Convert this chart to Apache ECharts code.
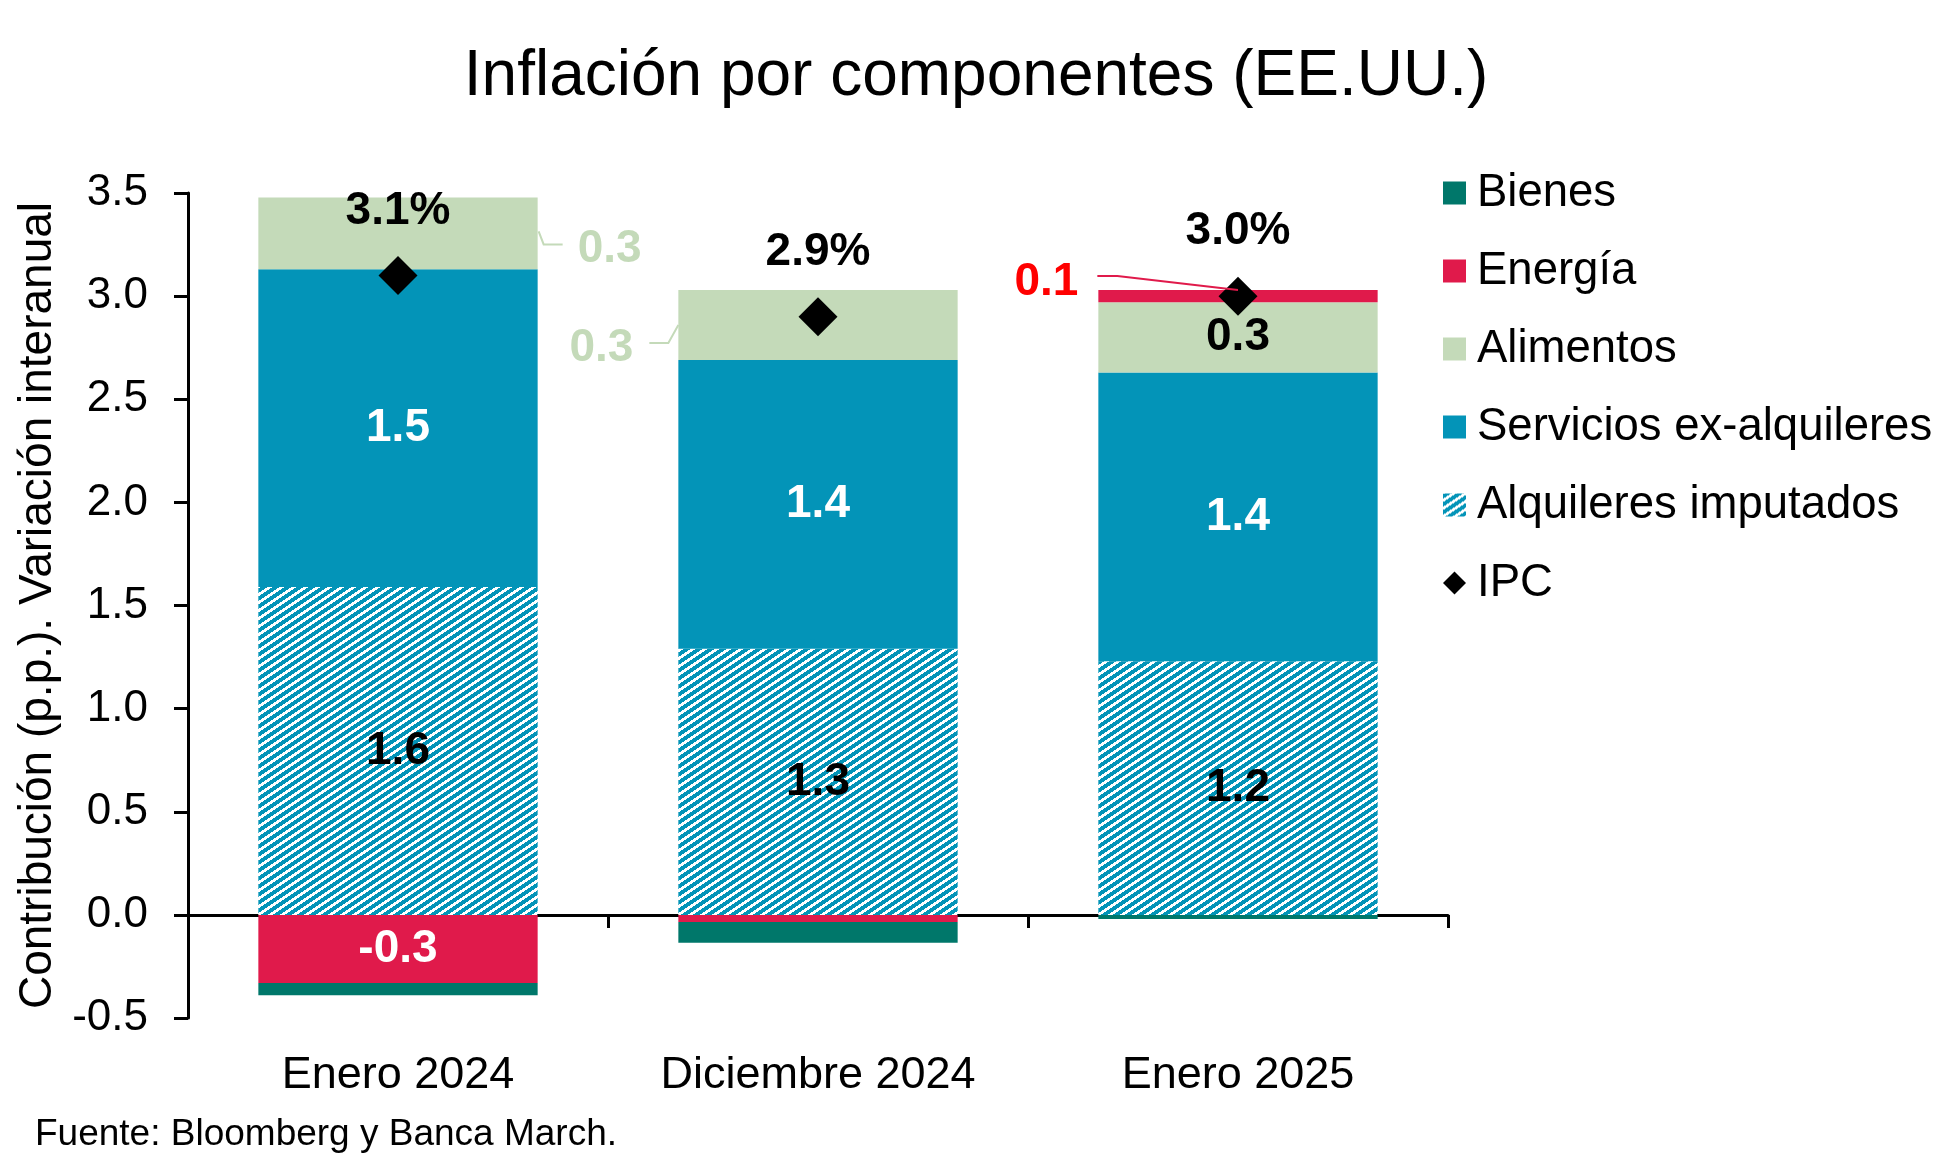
<!DOCTYPE html>
<html><head><meta charset="utf-8">
<script src="https://cdn.jsdelivr.net/npm/echarts@6/dist/echarts.min.js"></script>
<style>html,body{margin:0;padding:0;background:#fff}#c{width:1952px;height:1170px}</style>
</head><body><div id="c"></div>
<script>
// ---- data ----
const categories = ['Enero 2024', 'Diciembre 2024', 'Enero 2025'];
const bienes = [-0.06, -0.10, -0.02];
const energia = [-0.33, -0.035, 0.06];
const alimentos = [0.348, 0.34, 0.34];
const servicios = [1.54, 1.40, 1.40];
const alquileres = [1.59, 1.29, 1.23];
const ipc = [3.1, 2.9, 3.0];
const yMin = -0.5, yMax = 3.5, yStep = 0.5;
const seriesNames = ['Bienes', 'Energía', 'Alimentos', 'Servicios ex-alquileres', 'Alquileres imputados', 'IPC'];

// ---- styles ----
const FONT = '"Liberation Sans", Arial, Helvetica, sans-serif';
const C_BIENES = '#00776A', C_ENERGIA = '#E01A4B', C_ALIM = '#C4DAB9', C_SERV = '#0394B8';
const GAP = 0.335;

function makeHatch() {
  const w = 12, h = 8;
  const c = document.createElement('canvas'); c.width = w; c.height = h;
  const ctx = c.getContext('2d');
  const img = ctx.createImageData(w, h);
  for (let y = 0; y < h; y++) for (let x = 0; x < w; x++) {
    const i = (y * w + x) * 4;
    const blue = ((2 * x + 3 * y) % 24) < 14;
    img.data[i] = blue ? 3 : 255; img.data[i + 1] = blue ? 148 : 255; img.data[i + 2] = blue ? 184 : 255; img.data[i + 3] = 255;
  }
  ctx.putImageData(img, 0, 0);
  return c;
}
const hatch = { image: makeHatch(), repeat: 'repeat' };

const lblBase = { fontFamily: FONT, fontSize: 46, fontWeight: 'bold' };
const fmt1 = p => (Math.round(p.value * 10) / 10).toFixed(1);

const chart = echarts.init(document.getElementById('c'), null, { renderer: 'canvas' });

const alimData = alimentos.map((v, i) => {
  if (i < 2) return { value: v, label: { show: true, color: C_ALIM } };
  return { value: v, label: { show: true, color: '#000' } };
});
const energiaData = energia.map((v, i) => {
  if (i === 0) return { value: v, label: { show: true, color: '#fff' } };
  if (i === 2) return { value: v, label: { show: true, color: '#FF0000' } };
  return { value: v, label: { show: false } };
});

const option = {
  animation: false,
  backgroundColor: '#fff',
  textStyle: { fontFamily: FONT },
  title: [
    { text: 'Inflación por componentes (EE.UU.)', left: 'center', top: 40,
      textStyle: { fontFamily: FONT, fontSize: 64, fontWeight: 'normal', color: '#000' } },
    { text: 'Fuente: Bloomberg y Banca March.', left: 30, top: 1111,
      textStyle: { fontFamily: FONT, fontSize: 37, fontWeight: 'normal', color: '#000' } }
  ],
  legend: {
    orient: 'vertical', left: 1438, top: 165, itemWidth: 23, itemHeight: 23, itemGap: 32,
    selectedMode: false,
    textStyle: { fontFamily: FONT, fontSize: 45.5, color: '#000', lineHeight: 44, padding: [0, 0, 0, 6] },
    data: seriesNames.map(n => ({ name: n, icon: n === 'IPC' ? 'diamond' : 'rect' }))
  },
  grid: { left: 188, right: 504, top: 193, bottom: 152, containLabel: false },
  xAxis: [
    { type: 'category', data: categories, position: 'bottom',
      axisLine: { show: true, onZero: true, lineStyle: { color: '#000', width: 3 } },
      axisTick: { show: true, length: 13, lineStyle: { color: '#000', width: 3 } },
      axisLabel: { show: false } },
    { type: 'category', data: categories, position: 'bottom',
      axisLine: { show: false, onZero: false }, axisTick: { show: false },
      axisLabel: { show: true, margin: 35, fontFamily: FONT, fontSize: 45, color: '#000' } }
  ],
  yAxis: {
    type: 'value', min: yMin, max: yMax, interval: yStep,
    name: 'Contribución (p.p.). Variación interanual', nameLocation: 'middle', nameRotate: 90, nameGap: 127,
    nameTextStyle: { fontFamily: FONT, fontSize: 46, color: '#000' },
    axisLine: { show: true, lineStyle: { color: '#000', width: 3 } },
    axisTick: { show: true, length: 14, lineStyle: { color: '#000', width: 3 } },
    splitLine: { show: false },
    axisLabel: { margin: 40, fontFamily: FONT, fontSize: 44, color: '#000', formatter: v => v.toFixed(1) }
  },
  series: [
    { name: 'Alquileres imputados', type: 'bar', stack: 's', barCategoryGap: (GAP * 100) + '%', data: alquileres,
      itemStyle: { color: hatch },
      label: Object.assign({ show: true, position: 'inside', color: '#000', formatter: fmt1 }, lblBase) },
    { name: 'Servicios ex-alquileres', type: 'bar', stack: 's', data: servicios,
      itemStyle: { color: C_SERV },
      label: Object.assign({ show: true, position: 'inside', color: '#fff', formatter: fmt1 }, lblBase) },
    { name: 'Alimentos', type: 'bar', stack: 's', data: alimData,
      itemStyle: { color: C_ALIM },
      label: Object.assign({ show: true, position: 'inside', formatter: fmt1 }, lblBase),
      labelLayout: function (p) {
        const r = p.rect, cy = r.y + r.height / 2;
        if (p.dataIndex === 0) return { x: r.x + r.width + 40, y: cy + 16, align: 'left', verticalAlign: 'middle' };
        if (p.dataIndex === 1) return { x: r.x - 45, y: cy + 23, align: 'right', verticalAlign: 'middle' };
        return {};
      } },
    { name: 'Energía', type: 'bar', stack: 's', data: energiaData,
      itemStyle: { color: C_ENERGIA },
      label: Object.assign({ show: false, position: 'inside', formatter: fmt1 }, lblBase),
      labelLayout: function (p) {
        const r = p.rect;
        if (p.dataIndex === 2) return { x: r.x - 20, y: r.y - 8, align: 'right', verticalAlign: 'middle' };
        return {};
      } },
    { name: 'Bienes', type: 'bar', stack: 's', data: bienes,
      itemStyle: { color: C_BIENES }, label: { show: false } },
    { name: 'IPC', type: 'scatter', data: ipc, symbol: 'diamond', symbolSize: 39, z: 5,
      itemStyle: { color: '#000', opacity: 1 },
      label: Object.assign({ show: true, position: 'top', distance: 22, color: '#000',
        formatter: p => p.value.toFixed(1) + '%' }, lblBase) }
  ]
};
chart.setOption(option);

// ---- leader lines for the labels placed outside the bars (from axis scales) ----
function px(i, v) { return chart.convertToPixel({ xAxisIndex: 0, yAxisIndex: 0 }, [i, v]); }
const catW = px(1, 0)[0] - px(0, 0)[0];
const halfBar = catW * (1 - GAP) / 2;
const lines = [];
{ // bar 0, Alimentos, to the right
  const base = alquileres[0] + servicios[0];
  const yb = px(0, base)[1], yt = px(0, base + alimentos[0])[1];
  const cy = (yb + yt) / 2, rx = px(0, 0)[0] + halfBar;
  lines.push({ pts: [[rx + 1, cy - 2], [rx + 6, cy + 11], [rx + 25, cy + 11]], color: C_ALIM });
}
{ // bar 1, Alimentos, to the left
  const base = alquileres[1] + servicios[1];
  const yb = px(1, base)[1], yt = px(1, base + alimentos[1])[1];
  const cy = (yb + yt) / 2, lx = px(1, 0)[0] - halfBar;
  lines.push({ pts: [[lx, cy], [lx - 10, cy + 18], [lx - 29, cy + 18]], color: C_ALIM });
}
{ // bar 2, Energía, to the left
  const top = alquileres[2] + servicios[2] + alimentos[2] + energia[2];
  const yt = px(2, top)[1], cx = px(2, 0)[0], lx = cx - halfBar;
  lines.push({ pts: [[cx, yt], [lx + 19, yt - 14], [lx - 1, yt - 14]], color: C_ENERGIA });
}
chart.setOption({
  graphic: lines.map(l => ({ type: 'polyline', z: 100, silent: true,
    shape: { points: l.pts }, style: { stroke: l.color, lineWidth: 2, fill: null } }))
});
</script></body></html>
